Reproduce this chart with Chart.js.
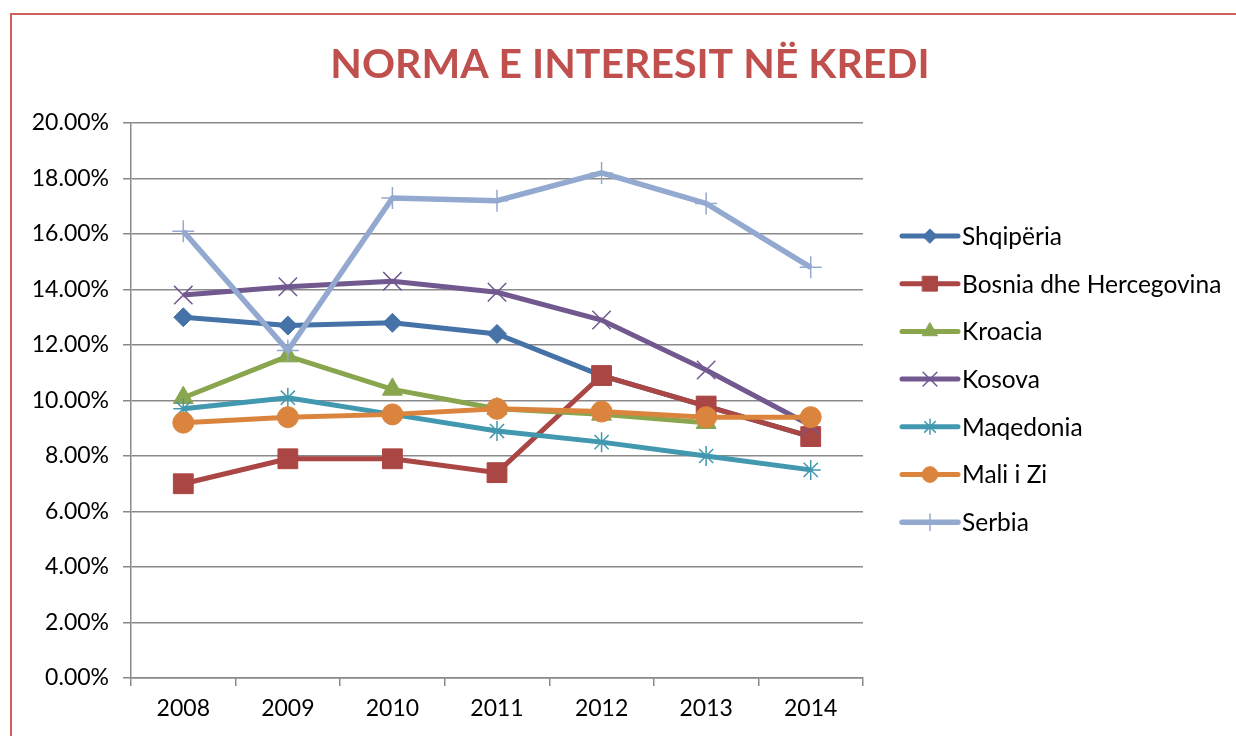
<!DOCTYPE html>
<html>
<head>
<meta charset="utf-8">
<script src="https://cdn.jsdelivr.net/npm/chart.js@4/dist/chart.umd.min.js"></script>
<style>
    body { margin: 0; background: #fff; }
    #moldura {
        position: absolute; left: 10px; top: 13px; width: 1300px; height: 800px;
        border: 2px solid #D0605C;
    }
    #caixa { position: absolute; left: 0; top: 0; width: 1236px; height: 736px; }
</style>
</head>
<body>
<div id="moldura"></div>
<div id="caixa"><canvas id="grafico" width="1236" height="736"></canvas></div>
<script>
const titulo = "NORMA E INTERESIT NË KREDI"
const anos = ["2008", "2009", "2010", "2011", "2012", "2013", "2014"]

// valores em percentagem
const shqiperia = [13.0, 12.7, 12.8, 12.4, 10.9, 9.8, 8.7]
const bosnia = [7.0, 7.9, 7.9, 7.4, 10.9, 9.8, 8.7]
const kroacia = [10.1, 11.6, 10.4, 9.7, 9.5, 9.2, null]
const kosova = [13.8, 14.1, 14.3, 13.9, 12.9, 11.1, 9.1]
const maqedonia = [9.7, 10.1, 9.5, 8.9, 8.5, 8.0, 7.5]
const maliZi = [9.2, 9.4, 9.5, 9.7, 9.6, 9.4, 9.4]
const serbia = [16.1, 11.8, 17.3, 17.2, 18.2, 17.1, 14.8]

const fonte = "Lato, 'Open Sans', sans-serif"
const cinza = "#898989"

// ordem: series mais novas ficam por cima (como no excel)
function serie(nome, valores, cor, marcador, raio, espessura, bordaPonto, ordem) {
    return {
        label: nome,
        data: valores,
        order: ordem,
        borderColor: cor,
        backgroundColor: cor,
        borderWidth: espessura,
        pointStyle: marcador,
        pointRadius: raio,
        pointHoverRadius: raio,
        pointBorderWidth: bordaPonto,
        pointBackgroundColor: cor,
        pointBorderColor: cor,
        tension: 0,
        spanGaps: false
    }
}

// titulo + legenda desenhados a mao
const extras = {
    id: "extras",
    afterDraw(chart) {
        const ctx = chart.ctx
        ctx.save()
        ctx.fillStyle = "#C0504D"
        ctx.font = "bold 41px " + fonte
        ctx.textAlign = "center"
        ctx.textBaseline = "middle"
        ctx.fillText(titulo, 630, 65)
        ctx.restore()

        const x0 = 902, x1 = 958, xTexto = 962
        const y0 = 236, passo = 47.7
        chart.data.datasets.forEach((ds, i) => {
            const y = y0 + i * passo
            ctx.save()
            ctx.strokeStyle = ds.borderColor
            ctx.lineWidth = ds.borderWidth
            ctx.lineCap = "round"
            ctx.beginPath()
            ctx.moveTo(x0, y)
            ctx.lineTo(x1, y)
            ctx.stroke()
            ctx.fillStyle = ds.pointBackgroundColor
            ctx.strokeStyle = ds.pointBorderColor
            ctx.lineWidth = ds.pointBorderWidth
            Chart.helpers.drawPoint(ctx, {
                pointStyle: ds.pointStyle,
                rotation: 0,
                radius: ds.pointRadius * 0.75,
                borderWidth: ds.pointBorderWidth
            }, (x0 + x1) / 2, y)
            ctx.fillStyle = "#000"
            ctx.font = "24.5px " + fonte
            ctx.textBaseline = "middle"
            ctx.textAlign = "left"
            ctx.fillText(ds.label, xTexto, y + 1)
            ctx.restore()
        })
    }
}

const grafico = document.getElementById("grafico")

new Chart(grafico, {
    type: "line",
    data: {
        labels: anos,
        datasets: [
            serie("Shqipëria", shqiperia, "#4572A7", "rectRot", 9.5, 5, 1, 6),
            serie("Bosnia dhe Hercegovina", bosnia, "#AA4643", "rect", 14, 5, 1, 5),
            serie("Kroacia", kroacia, "#89A54E", "triangle", 11.5, 5, 1, 4),
            serie("Kosova", kosova, "#71588F", "crossRot", 13, 5, 1.5, 3),
            serie("Maqedonia", maqedonia, "#4198AF", "star", 10, 5, 1.5, 2),
            serie("Mali i Zi", maliZi, "#DB843D", "circle", 10.5, 5, 1, 1),
            serie("Serbia", serbia, "#93A9CF", "cross", 11, 5.5, 1.5, 0)
        ]
    },
    plugins: [extras],
    options: {
        responsive: false,
        animation: false,
        layout: { padding: { top: 123, right: 373, bottom: 0, left: 0 } },
        plugins: {
            legend: { display: false },
            tooltip: { enabled: false },
            title: { display: false }
        },
        scales: {
            x: {
                offset: true,
                afterFit: (scale) => { scale.height = 58 },
                grid: {
                    offset: true,
                    drawOnChartArea: false,
                    drawTicks: true,
                    tickLength: 8,
                    color: cinza,
                    lineWidth: 1.5
                },
                border: { color: cinza, width: 1.5 },
                ticks: { color: "#000", font: { family: fonte, size: 23 }, padding: 9 }
            },
            y: {
                min: 0,
                max: 20,
                afterFit: (scale) => { scale.width = 131 },
                grid: { color: cinza, lineWidth: 1.5, tickLength: 8 },
                border: { color: cinza, width: 1.5 },
                ticks: {
                    stepSize: 2,
                    color: "#000",
                    padding: 14,
                    font: { family: fonte, size: 23 },
                    callback: (v) => v.toFixed(2) + "%"
                }
            }
        }
    }
})
</script>
</body>
</html>
